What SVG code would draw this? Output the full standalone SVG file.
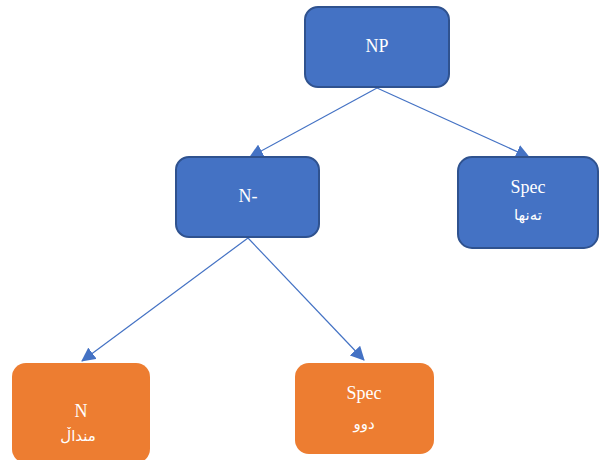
<svg xmlns="http://www.w3.org/2000/svg" width="600" height="460" viewBox="0 0 600 460">
  <defs>
    <marker id="arr" viewBox="0 0 14 14" refX="13" refY="7" markerWidth="14" markerHeight="14" markerUnits="userSpaceOnUse" orient="auto">
      <path d="M0,0 L14,7 L0,14 Z" fill="#4472C4"/>
    </marker>
    <style>
      .blue { fill: #4472C4; stroke: #2F528F; stroke-width: 2; }
      .orange { fill: #ED7D31; stroke: none; }
      .conn { stroke: #4472C4; stroke-width: 1.2; fill: none; marker-end: url(#arr); }
      .lbl { font-family: "Liberation Serif", "DejaVu Sans", serif; font-size: 18px; fill: #FFFFFF; text-anchor: middle; }
      .ar { font-family: "DejaVu Sans", "Liberation Serif", sans-serif; font-size: 15px; fill: #FFFFFF; text-anchor: middle; }
    </style>
  </defs>
  <rect width="600" height="460" fill="#FFFFFF"/>
  <g id="connectors">
    <line class="conn" x1="377" y1="88" x2="250" y2="157"/>
    <line class="conn" x1="377" y1="88" x2="529" y2="157"/>
    <line class="conn" x1="248" y1="238" x2="82" y2="361"/>
    <line class="conn" x1="248" y1="238" x2="364" y2="360"/>
  </g>
  <g id="np">
    <rect class="blue" x="305" y="7" width="144" height="80" rx="13"/>
    <text class="lbl" x="377" y="52">NP</text>
  </g>
  <g id="nbar">
    <rect class="blue" x="176" y="157" width="143" height="80" rx="13"/>
    <text class="lbl" x="248" y="202">N-</text>
  </g>
  <g id="spec-top">
    <rect class="blue" x="458" y="157" width="140" height="91" rx="14"/>
    <text class="lbl" x="528" y="193">Spec</text>
    <text class="ar" x="528" y="220">تەنها</text>
  </g>
  <g id="n-leaf">
    <rect class="orange" x="12" y="363" width="138" height="100" rx="14"/>
    <text class="lbl" x="81" y="417">N</text>
    <text class="ar" x="78" y="441">منداڵ</text>
  </g>
  <g id="spec-leaf">
    <rect class="orange" x="295" y="363" width="139" height="91" rx="14"/>
    <text class="lbl" x="364" y="399">Spec</text>
    <text class="ar" x="364" y="429">دوو</text>
  </g>
</svg>
